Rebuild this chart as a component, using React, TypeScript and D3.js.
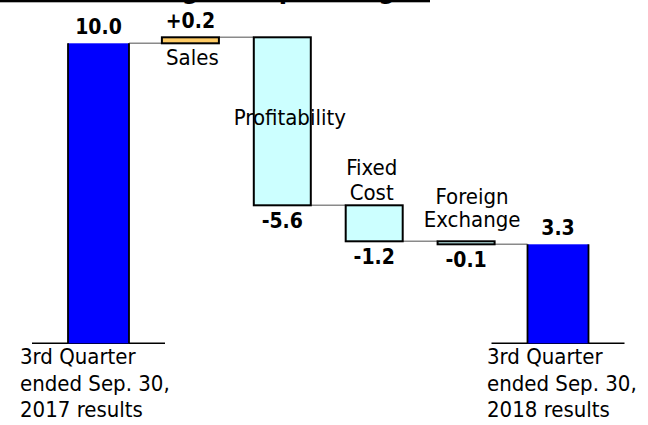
import React, { useEffect } from "react";
import * as d3 from "d3";

// ---- data ----
const categories = ["Q3 2017", "Sales", "Profitability", "Fixed Cost", "Foreign Exchange", "Q3 2018"];
const categoryLabelLines: string[][] = [
  ["3rd Quarter", "ended Sep. 30,", "2017 results"],
  ["Sales"],
  ["Profitability"],
  ["Fixed", "Cost"],
  ["Foreign", "Exchange"],
  ["3rd Quarter", "ended Sep. 30,", "2018 results"],
];
const values = [10.0, 0.2, -5.6, -1.2, -0.1, 3.3];
const kinds = ["total", "delta", "delta", "delta", "delta", "total"];
const valueLabels = ["10.0", "+0.2", "-5.6", "-1.2", "-0.1", "3.3"];
const titleText = "Change in Operating Income";

const W = 648;
const H = 425;
const FONT = "'DejaVu Sans Condensed', 'Liberation Sans', sans-serif";

export default function App() {
  useEffect(() => {
    document.body.style.margin = "0";
  }, []);

  const x = d3.scalePoint<string>().domain(categories).range([98.5, 558]);
  const y = d3.scaleLinear().domain([0, 10]).range([343.3, 43.3]);

  // build waterfall segments
  let running = 0;
  const segs = values.map((v, i) => {
    let start: number, end: number;
    if (kinds[i] === "total") {
      start = 0;
      end = v;
      running = v;
    } else {
      start = running;
      end = running + v;
      running = end;
    }
    const lo = Math.min(start, end);
    const hi = Math.max(start, end);
    return { cat: categories[i], v, kind: kinds[i], start, end, lo, hi, i };
  });

  const barW = (k: string) => (k === "total" ? 61 : 57);
  const fillFor = (s: any) =>
    s.kind === "total" ? "#0000FF" : s.v > 0 ? "#FFCC66" : "#CCFFFF";

  // label layout (text placement only)
  const labelLayout = [
    { anchor: "start", dx: -78.5, base: (s: any) => y(0) + 21, lh: 26.5 },
    { anchor: "middle", dx: 2, base: (s: any) => y(s.lo) + 22, lh: 25 },
    { anchor: "middle", dx: 7.5, base: (s: any) => y(s.hi) + 88, lh: 25 },
    { anchor: "middle", dx: -2.5, base: (s: any) => y(s.hi) - 30, lh: 25 },
    { anchor: "middle", dx: 6, base: (s: any) => y(s.hi) - 37, lh: 23 },
    { anchor: "start", dx: -71, base: (s: any) => y(0) + 21, lh: 26.5 },
  ];

  return (
    <svg
      width={W}
      height={H}
      viewBox={`0 0 ${W} ${H}`}
      style={{ display: "block", position: "absolute", left: 0, top: 0, background: "#fff" }}
    >
      <rect x={0} y={0} width={W} height={H} fill="#fff" />
      {/* title, cut off at the top edge as in the source */}
      <text x={113} y={-2} fontFamily={FONT} fontWeight="bold" fontSize={27} fill="#000">
        {titleText}
      </text>
      <rect x={0} y={0} width={430} height={2.3} fill="#000" />

      {/* baselines under totals */}
      {segs
        .filter((s) => s.kind === "total")
        .map((s) => (
          <line
            key={"base" + s.i}
            x1={x(s.cat)! - 66.5}
            x2={x(s.cat)! + 66.5}
            y1={y(0)}
            y2={y(0)}
            stroke="#000"
            strokeWidth={1.5}
          />
        ))}

      {/* connectors */}
      {segs.slice(0, -1).map((s, i) => {
        const n = segs[i + 1];
        return (
          <line
            key={"conn" + i}
            x1={x(s.cat)! + barW(s.kind) / 2}
            x2={x(n.cat)! - barW(n.kind) / 2}
            y1={y(s.end)}
            y2={y(s.end)}
            stroke="#8a8a8a"
            strokeWidth={1.5}
          />
        );
      })}

      {/* bars */}
      {segs.map((s) => {
        const cx = x(s.cat)!;
        const w = barW(s.kind);
        const top = y(s.hi);
        const bot = y(s.lo);
        if (s.kind === "total") {
          return (
            <g key={"bar" + s.i}>
              <rect x={cx - w / 2} y={top} width={w} height={bot - top} fill={fillFor(s)} />
              <line x1={cx - w / 2} x2={cx - w / 2} y1={top} y2={bot} stroke="#000" strokeWidth={1.8} />
              <line x1={cx + w / 2} x2={cx + w / 2} y1={top} y2={bot} stroke="#000" strokeWidth={1.8} />
            </g>
          );
        }
        return (
          <rect
            key={"bar" + s.i}
            x={cx - w / 2}
            y={top}
            width={w}
            height={bot - top}
            fill={fillFor(s)}
            stroke="#000"
            strokeWidth={2}
          />
        );
      })}

      {/* value labels */}
      {segs.map((s) => {
        const cx = x(s.cat)!;
        const up = s.kind === "total" || s.v > 0;
        const yy = up ? y(s.hi) - 9 : y(s.lo) + 23;
        return (
          <text
            key={"val" + s.i}
            x={cx}
            y={yy}
            textAnchor="middle"
            fontFamily={FONT}
            fontWeight="bold"
            fontSize={21}
            fill="#000"
          >
            {valueLabels[s.i]}
          </text>
        );
      })}

      {/* category labels */}
      {segs.map((s) => {
        const L = labelLayout[s.i];
        const cx = x(s.cat)! + L.dx;
        const b = L.base(s);
        return (
          <text
            key={"cat" + s.i}
            textAnchor={L.anchor as any}
            fontFamily={FONT}
            fontSize={22}
            fill="#000"
          >
            {categoryLabelLines[s.i].map((line, k) => (
              <tspan key={k} x={cx} y={b + k * L.lh}>
                {line}
              </tspan>
            ))}
          </text>
        );
      })}
    </svg>
  );
}
